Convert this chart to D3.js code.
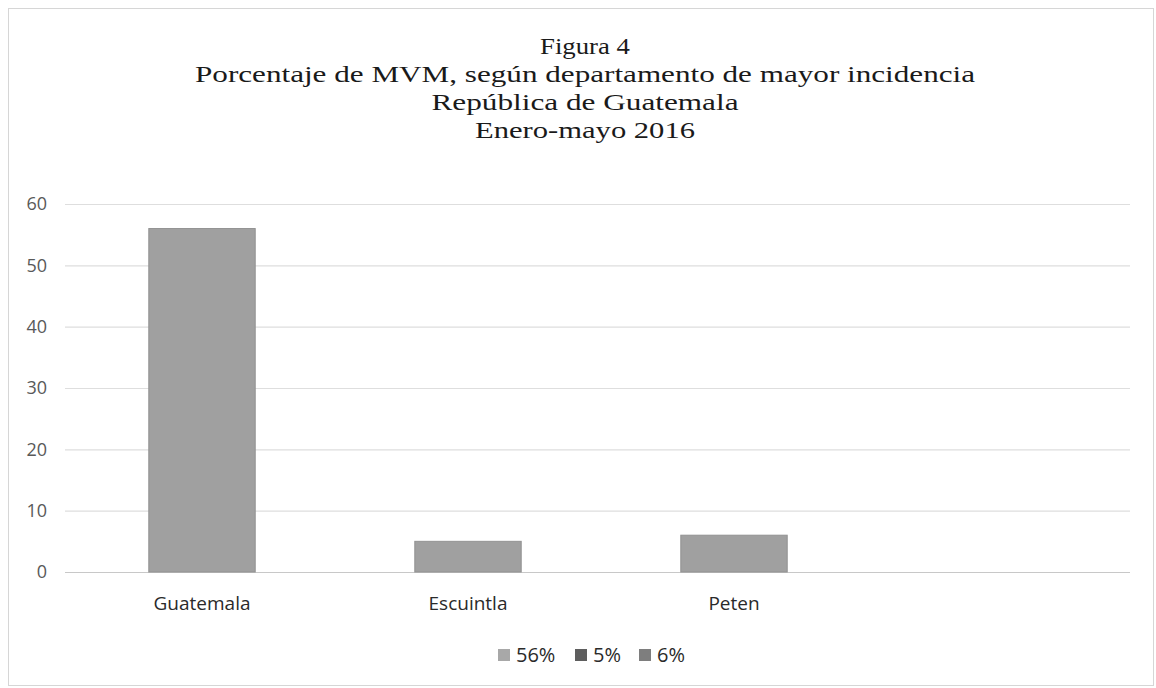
<!DOCTYPE html>
<html>
<head>
<meta charset="utf-8">
<script src="https://cdn.jsdelivr.net/npm/d3@7"></script>
<style>
  body { margin: 0; background: #fff; }
</style>
</head>
<body>
<svg id="chart" width="1156" height="688"></svg>
<script>
const titleLines = [
	"Figura 4",
	"Porcentaje de MVM, según departamento de mayor incidencia",
	"República de Guatemala",
	"Enero-mayo 2016",
];
const categories = ["Guatemala", "Escuintla", "Peten", ""];
const values = [56, 5, 6, null];
const legendLabels = ["56%", "5%", "6%"];
const yTicks = [0, 10, 20, 30, 40, 50, 60];

const svg = d3.select("#chart");
const width = +svg.attr("width"),
	height = +svg.attr("height");

// outer frame
svg.append("rect")
	.attr("x", 8.5)
	.attr("y", 8.5)
	.attr("width", width - 11)
	.attr("height", height - 11)
	.attr("fill", "none")
	.attr("stroke", "#d6d6d6");

// title lines, serif, squeezed to the widths of the scan
const titleWidths = [90, 780, 307, 220];
svg.append("g")
	.selectAll("text")
	.data(titleLines)
	.join("text")
	.attr("x", 585)
	.attr("y", (d, i) => 54 + i * 28)
	.attr("text-anchor", "middle")
	.attr("textLength", (d, i) => titleWidths[i])
	.attr("lengthAdjust", "spacingAndGlyphs")
	.style("font-family", "'Liberation Serif', 'DejaVu Serif', serif")
	.style("font-size", 24)
	.style("fill", "#1a1a1a")
	.text((d) => d);

const x = d3.scaleBand()
	.domain(categories.map((d, i) => i))
	.range([69, 1133])
	.paddingInner(0.6)
	.paddingOuter(0.3);

const y = d3.scaleLinear().domain([0, 60]).range([572, 204]);

// gridlines
svg.append("g")
	.selectAll("line")
	.data(yTicks)
	.join("line")
	.attr("x1", 65)
	.attr("x2", 1130)
	.attr("y1", (d) => y(d) + 0.5)
	.attr("y2", (d) => y(d) + 0.5)
	.attr("stroke", (d) => (d === 0 ? "#c8c8c8" : "#dedede"))
	.attr("stroke-width", 1.2);

// y tick labels
svg.append("g")
	.selectAll("text")
	.data(yTicks)
	.join("text")
	.attr("x", 47)
	.attr("y", (d) => y(d))
	.attr("dy", "0.35em")
	.attr("text-anchor", "end")
	.style("font-family", "'Open Sans', sans-serif")
	.style("font-size", 18)
	.style("fill", "#595959")
	.text((d) => d);

// bars
svg.append("g")
	.selectAll("rect")
	.data(values.map((v, i) => ({ i, v })).filter((d) => d.v != null))
	.join("rect")
	.attr("x", (d) => x(d.i))
	.attr("width", x.bandwidth())
	.attr("y", (d) => y(d.v))
	.attr("height", (d) => y(0) - y(d.v))
	.attr("fill", "#a0a0a0")
	.attr("stroke", "#929292")
	.attr("stroke-width", 1);

// category labels
svg.append("g")
	.selectAll("text")
	.data(categories)
	.join("text")
	.attr("x", (d, i) => x(i) + x.bandwidth() / 2)
	.attr("y", 610)
	.attr("text-anchor", "middle")
	.style("font-family", "'Open Sans', sans-serif")
	.style("font-size", 19)
	.style("fill", "#2a2a2a")
	.text((d) => d);

// legend
const legendX = [498, 575, 639];
const legend = svg.append("g")
	.selectAll("g")
	.data(legendLabels)
	.join("g")
	.attr("transform", (d, i) => `translate(${legendX[i]},655)`);

legend.append("rect")
	.attr("x", 0)
	.attr("y", -6)
	.attr("width", 12)
	.attr("height", 12)
	.attr("fill", (d, i) => ["#a8a8a8", "#5e5e5e", "#7e7e7e"][i]);

legend.append("text")
	.attr("x", 18)
	.attr("y", 0)
	.attr("dy", "0.36em")
	.style("font-family", "'Open Sans', sans-serif")
	.style("font-size", 20)
	.style("fill", "#2a2a2a")
	.text((d) => d);
</script>
</body>
</html>
